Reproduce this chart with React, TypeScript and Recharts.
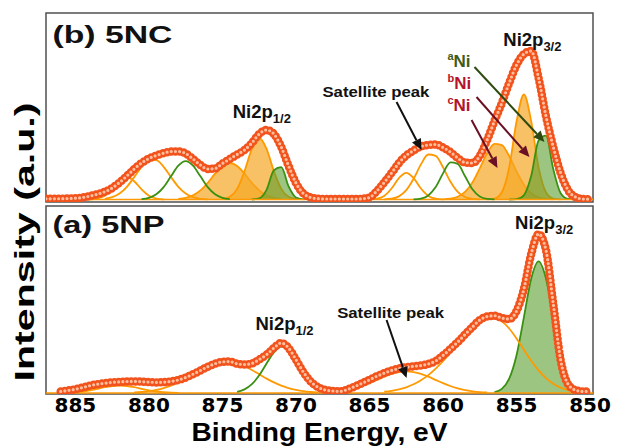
import React from "react";
import {
  Area,
  ComposedChart,
  Line,
  ReferenceArea,
  ReferenceDot,
  ReferenceLine,
  XAxis,
  YAxis,
} from "recharts";

// binding energy grid (eV), 0.5 eV steps
const energy = [
  887, 886.5, 886, 885.5, 885, 884.5, 884, 883.5, 883, 882.5, 882, 881.5, 881, 880.5, 880,
  879.5, 879, 878.5, 878, 877.5, 877, 876.5, 876, 875.5, 875, 874.5, 874, 873.5, 873, 872.5, 872,
  871.5, 871, 870.5, 870, 869.5, 869, 868.5, 868, 867.5, 867, 866.5, 866, 865.5, 865, 864.5, 864,
  863.5, 863, 862.5, 862, 861.5, 861, 860.5, 860, 859.5, 859, 858.5, 858, 857.5, 857, 856.5, 856,
  855.5, 855, 854.5, 854, 853.5, 853, 852.5, 852, 851.5, 851, 850.5, 850,
];
const minorTicks = [885, 882.5, 880, 877.5, 875, 872.5, 870, 867.5, 865, 862.5, 860, 857.5, 855, 852.5, 850];
const majorTicks = [885, 880, 875, 870, 865, 860, 855, 850];
const topTicks = [23.6, 47.2, 70.8, 94.4, 118, 141.6, 165.2];
const bottomTicks = [31.6, 65, 98.4, 131.8, 165.2];

// (b) 5NC measured envelope
const envTop = [
  3.2, 3.2, 3.3, 3.5, 3.8, 4.5, 6.0, 7.8, 10.2, 14, 19.5, 26, 33, 39, 43.5,
  46.5, 48.8, 50.5, 50.5, 48.5, 43, 37, 33, 33.5, 38.5, 43, 47.5, 52, 59, 68, 72,
  68, 55, 36, 19, 8.5, 4.5, 3.3, 3.0, 3.0, 3.0, 3.0, 3.0, 3.2, 4.5, 11, 19.5,
  29, 39, 46.5, 51.5, 55.5, 57, 57.5, 54.5, 50, 44, 39.5, 39, 46, 62, 81, 99,
  119, 137, 148, 151, 124, 86, 55, 29, 12, 5, 3, 2.8,
];
// (b) fitted components: start energy + values
const tC1 = { from: 884, values: [2.5, 3.5, 6.3, 12.7, 20.8, 24.8, 20.8, 12.7, 6.3, 3.5, 2.5] };
const tC2 = { from: 883, values: [3.2, 4.8, 8.5, 15.2, 24.9, 35.2, 42.4, 41.8, 35.2, 24.9, 15.2, 8.5, 4.8, 3.2, 2.6] };
const tC3 = { from: 880.5, values: [2.9, 4.2, 7.7, 14.9, 25.7, 36.3, 40.8, 36.3, 25.7, 14.9, 7.7, 4.2, 2.9] };
const tC4 = { from: 878, values: [3.0, 4.1, 6.7, 11.6, 19.2, 28.3, 36, 39, 36, 28.3, 19.2, 11.6, 6.7, 4.1, 3.0] };
const tC5 = { from: 875, values: [3.0, 5.2, 13.1, 30.7, 53.1, 64, 53.1, 30.7, 13.1, 5.2, 3.0] };
const tC6 = { from: 873, values: [2.5, 3.7, 12.2, 31.7, 34.8, 15.6, 4.5, 2.6] };
const tD1 = { from: 865, values: [2.6, 3.3, 6.1, 13.5, 23.9, 29.2, 23.9, 13.5, 6.1, 3.3, 2.6] };
const tD2 = { from: 864, values: [2.7, 3.3, 5.6, 11.8, 23.2, 37.6, 47.5, 46.2, 34.7, 20.5, 10.1, 5.0, 3.1, 2.6] };
const tD3 = { from: 862, values: [2.6, 3.4, 6.5, 14.9, 28.6, 39.6, 38.2, 25.7, 12.7, 5.5, 3.1, 2.6] };
const tD4 = { from: 860, values: [2.7, 3.3, 5.3, 10.1, 19.6, 33.7, 48.7, 58.1, 56.9, 45.9, 30.6, 17.3, 8.8, 4.7, 3.1, 2.6] };
const tD5 = { from: 857, values: [2.6, 3.4, 9.8, 34.6, 80.6, 107.5, 80.6, 34.6, 9.8, 3.4, 2.6] };
const tD6 = { from: 855.5, values: [2.5, 2.8, 6.7, 26.2, 61.4, 66.4, 32.9, 8.8, 3.1, 2.5] };

// (a) 5NP measured envelope
const envBottom = {
  from: 886,
  values: [
    2.6, 3.5, 4.8, 6.5, 8.4, 9.8, 10.8, 11.6, 12.1, 12.5, 12.6, 12.3, 11.9, 11.6, 11.8,
    12.6, 14.0, 16.5, 19.8, 23.5, 27.3, 30.3, 32.2, 32.4, 30.2, 29.5, 30.5, 34.5, 39.3, 46, 51,
    46, 34.3, 22, 12.5, 6.8, 4.0, 3.0, 2.6, 4.5, 7.5, 10.8, 14.2, 17.8, 20.8, 23.5, 25.5,
    26.8, 27.7, 28.5, 30, 33, 38.5, 45, 52, 59.5, 67, 74, 77.5, 78.3, 76, 75, 83,
    105, 140, 160, 144, 90, 34, 10, 4, 2.6, 2.6,
  ],
};
const bC1 = { from: 886, values: [1.1, 1.3, 1.8, 2.5, 3.7, 5.2, 6.8, 8.0, 8.5, 8.0, 6.8, 5.2, 3.7, 2.5, 1.8, 1.3, 1.1] };
const bC2 = {
  from: 881,
  values: [1.6, 2.0, 2.8, 4.1, 5.9, 8.4, 11.6, 15.4, 19.7, 24.0, 27.8, 30.7, 32.3, 32.3, 30.7, 27.8, 24.0, 19.7, 15.4, 11.6, 8.4, 5.9, 4.1, 2.8, 2.0, 1.6],
};
const bC3 = { from: 874, values: [2.2, 4.6, 9.8, 18.7, 30.5, 41.7, 47.4, 44.9, 35.3, 23.2, 12.9, 6.3, 2.9, 1.6] };
const bD1 = {
  from: 868,
  values: [1.5, 1.9, 2.7, 3.9, 5.7, 8.0, 10.9, 14.1, 17.3, 20.1, 21.9, 22.6, 21.9, 20.1, 17.3, 14.1, 10.9, 8.0, 5.7, 3.9, 2.7, 1.9, 1.5],
};
const bD2 = {
  from: 864,
  values: [2.3, 3.2, 4.6, 6.7, 9.7, 13.7, 18.9, 25.4, 32.9, 41.3, 50.0, 58.4, 65.9, 71.7, 75.1, 75.9, 72.7, 65.5, 55.5, 44.2, 33.3, 23.6, 15.9, 10.2, 6.3, 3.9, 2.5, 1.7, 1.3],
};
const bD3 = { from: 856.5, values: [1.9, 5.1, 15.3, 38.8, 76.7, 115.6, 132.6, 115.6, 76.7, 38.8, 15.3, 5.1, 1.9] };

type Win = { from: number; values: number[] };

function buildRows(series: Record<string, Win>) {
  return energy.map((e, k) => {
    const row: Record<string, number | null> = { e };
    for (const [key, w] of Object.entries(series)) {
      const j = k - energy.indexOf(w.from);
      row[key] = j >= 0 && j < w.values.length ? w.values[j] : null;
    }
    return row;
  });
}

const topRows = buildRows({
  env: { from: 887, values: envTop },
  env2: { from: 887, values: envTop },
  c1: tC1, c2: tC2, c3: tC3, c4: tC4, c5: tC5, c6: tC6,
  d1: tD1, d2: tD2, d3: tD3, d4: tD4, d5: tD5, d6: tD6,
});
const bottomRows = buildRows({
  env: envBottom,
  env2: envBottom,
  c1: bC1, c2: bC2, c3: bC3, d1: bD1, d2: bD2, d3: bD3,
});

const ORANGE = "#ff9900";
const ORANGE_FILL = "#f5a623";
const GREEN = "#3a9012";
const GREEN_FILL = "#5a9e2f";
const FRAME = "#505050";
const SANS = "'Liberation Sans', Arial, sans-serif";
const DOMAIN: [number, number] = [849.8, 887];

const arrow = (color: string) => (p: any) => {
  const { x1, y1, x2, y2 } = p;
  const a = Math.atan2(y2 - y1, x2 - x1);
  const L = 11;
  const W = 5;
  const bx = x2 - L * Math.cos(a);
  const by = y2 - L * Math.sin(a);
  const px = -Math.sin(a) * W;
  const py = Math.cos(a) * W;
  return (
    <g>
      <line x1={x1} y1={y1} x2={bx} y2={by} stroke={color} strokeWidth={2} />
      <polygon points={`${x2},${y2} ${bx + px},${by + py} ${bx - px},${by - py}`} fill={color} />
    </g>
  );
};

const plain = (text: string, size: number, length?: number) => (p: any) => (
  <text
    x={p.viewBox.x}
    y={p.viewBox.y}
    fontFamily={SANS}
    fontWeight="bold"
    fontSize={size}
    fill="#111"
    textLength={length}
    lengthAdjust="spacingAndGlyphs"
  >
    {text}
  </text>
);

const orbital = (sub: string) => (p: any) => (
  <text x={p.viewBox.x} y={p.viewBox.y} fontFamily={SANS} fontWeight="bold" fontSize={18.5} fill="#111">
    Ni2p
    <tspan fontSize={13} dy={5}>
      {sub}
    </tspan>
  </text>
);

const species = (sup: string, color: string) => (p: any) => (
  <text x={p.viewBox.x} y={p.viewBox.y} fontFamily={SANS} fontWeight="bold" fontSize={17} fill={color}>
    <tspan fontSize={11} dy={-7}>
      {sup}
    </tspan>
    <tspan dy={7}>Ni</tspan>
  </text>
);

const envelope = [
  <Line key="e1" type="monotone" dataKey="env" stroke="#f2521c" strokeWidth={8.5} strokeDasharray="0 4.2" strokeLinecap="round" dot={false} isAnimationActive={false} />,
  <Line key="e2" type="monotone" dataKey="env2" stroke="#ffbf9e" strokeWidth={3.2} strokeDasharray="0 4.2" strokeLinecap="round" dot={false} isAnimationActive={false} />,
];

const fitLine = (key: string, color: string) => (
  <Line key={key} type="monotone" dataKey={key} stroke={color} strokeWidth={1.8} dot={false} isAnimationActive={false} />
);

const fitArea = (key: string, color: string, fill: string, base: number) => (
  <Area
    key={key}
    type="monotone"
    dataKey={key}
    baseValue={base}
    stroke={color}
    strokeWidth={1.8}
    fill={fill}
    fillOpacity={color === GREEN ? 0.6 : 0.7}
    isAnimationActive={false}
  />
);

function TopPanel() {
  return (
    <ComposedChart width={619} height={210} data={topRows} margin={{ top: 13, right: 26, bottom: 8, left: 46 }}>
      <XAxis dataKey="e" type="number" domain={DOMAIN} reversed allowDataOverflow ticks={minorTicks} interval={0} mirror tick={false} tickSize={4} axisLine={false} tickLine={{ stroke: FRAME, strokeWidth: 1.2 }} />
      <YAxis type="number" domain={[0, 189]} allowDataOverflow ticks={topTicks} interval={0} mirror tick={false} tickSize={4} axisLine={false} tickLine={{ stroke: FRAME, strokeWidth: 1.2 }} />
      <ReferenceLine y={2.5} stroke={ORANGE} strokeWidth={1.5} />
      {fitArea("c4", ORANGE, ORANGE_FILL, 2.5)}
      {fitArea("c5", ORANGE, ORANGE_FILL, 2.5)}
      {fitArea("d4", ORANGE, ORANGE_FILL, 2.5)}
      {fitArea("d5", ORANGE, ORANGE_FILL, 2.5)}
      {fitArea("c6", GREEN, GREEN_FILL, 2.5)}
      {fitArea("d6", GREEN, GREEN_FILL, 2.5)}
      {fitLine("c1", ORANGE)}
      {fitLine("c2", ORANGE)}
      {fitLine("d1", ORANGE)}
      {fitLine("d2", ORANGE)}
      {fitLine("c3", GREEN)}
      {fitLine("d3", GREEN)}
      {envelope}
      <ReferenceArea x1={887} x2={849.8} y1={0} y2={189} fill="none" stroke={FRAME} strokeWidth={1.5} ifOverflow="visible" />
      <ReferenceDot x={886.56} y={159} r={0} fill="none" stroke="none" label={{ content: plain("(b) 5NC", 23, 120) }} />
      <ReferenceDot x={874.3} y={84} r={0} fill="none" stroke="none" label={{ content: orbital("1/2") }} />
      <ReferenceDot x={855.9} y={156} r={0} fill="none" stroke="none" label={{ content: orbital("3/2") }} />
      <ReferenceDot x={868.2} y={105} r={0} fill="none" stroke="none" label={{ content: plain("Satellite peak", 14.5, 107) }} />
      <ReferenceDot x={859.7} y={135} r={0} fill="none" stroke="none" label={{ content: species("a", "#3f5c16") }} />
      <ReferenceDot x={859.7} y={113} r={0} fill="none" stroke="none" label={{ content: species("b", "#b3142c") }} />
      <ReferenceDot x={859.7} y={91} r={0} fill="none" stroke="none" label={{ content: species("c", "#b3142c") }} />
      <ReferenceLine segment={[{ x: 863.16, y: 100 }, { x: 861.46, y: 52 }]} shape={arrow("#111")} />
      <ReferenceLine segment={[{ x: 857.86, y: 135 }, { x: 853.1, y: 60 }]} shape={arrow("#2f4a10")} />
      <ReferenceLine segment={[{ x: 857.72, y: 105 }, { x: 854.12, y: 45 }]} shape={arrow("#6b0f25")} />
      <ReferenceLine segment={[{ x: 858.06, y: 82 }, { x: 856.3, y: 34 }]} shape={arrow("#6b0f25")} />
    </ComposedChart>
  );
}

function BottomPanel() {
  const xTitle = (p: any) => (
    <text x={p.viewBox.x + p.viewBox.width / 2} y={441} textAnchor="middle" fontFamily={SANS} fontWeight="bold" fontSize={26} textLength={256} lengthAdjust="spacingAndGlyphs" fill="#000">
      Binding Energy, eV
    </text>
  );
  const yTitle = () => (
    <text x={34} y={242} transform="rotate(-90 34 242)" textAnchor="middle" fontFamily={SANS} fontWeight="bold" fontSize={28} textLength={279} lengthAdjust="spacingAndGlyphs" fill="#000">
      Intensity (a.u.)
    </text>
  );
  return (
    <ComposedChart width={619} height={448} data={bottomRows} margin={{ top: 206, right: 26, bottom: 24, left: 46 }}>
      <XAxis
        dataKey="e"
        type="number"
        domain={DOMAIN}
        reversed
        allowDataOverflow
        ticks={majorTicks}
        interval={0}
        height={30}
        tickSize={4}
        tickMargin={0}
        tickLine={false}
        axisLine={false}
        tick={{ fontFamily: "'DejaVu Sans', sans-serif", fontWeight: "bold", fontSize: 20, fill: "#000" }}
        label={{ content: xTitle }}
      />
      <XAxis xAxisId="minor" dataKey="e" type="number" domain={DOMAIN} reversed allowDataOverflow ticks={minorTicks} interval={0} mirror tick={false} tickSize={4} axisLine={false} tickLine={{ stroke: FRAME, strokeWidth: 1.2 }} />
      <YAxis type="number" domain={[0, 188]} allowDataOverflow ticks={bottomTicks} interval={0} mirror tick={false} tickSize={4} axisLine={false} tickLine={{ stroke: FRAME, strokeWidth: 1.2 }} label={{ content: yTitle }} />
      <ReferenceLine y={1} stroke={ORANGE} strokeWidth={1.5} />
      {fitArea("d3", GREEN, GREEN_FILL, 1)}
      {fitLine("c1", ORANGE)}
      {fitLine("c2", ORANGE)}
      {fitLine("d1", ORANGE)}
      {fitLine("d2", ORANGE)}
      {fitLine("c3", GREEN)}
      {envelope}
      <ReferenceArea x1={887} x2={849.8} y1={0} y2={188} fill="none" stroke={FRAME} strokeWidth={1.5} ifOverflow="visible" />
      <ReferenceDot x={886.56} y={161} r={0} fill="none" stroke="none" label={{ content: plain("(a) 5NP", 23, 112) }} />
      <ReferenceDot x={872.76} y={64} r={0} fill="none" stroke="none" label={{ content: orbital("1/2") }} />
      <ReferenceDot x={855.1} y={165} r={0} fill="none" stroke="none" label={{ content: orbital("3/2") }} />
      <ReferenceDot x={867.2} y={76} r={0} fill="none" stroke="none" label={{ content: plain("Satellite peak", 14.5, 107) }} />
      <ReferenceLine segment={[{ x: 863.84, y: 74 }, { x: 862.48, y: 16 }]} shape={arrow("#111")} />
    </ComposedChart>
  );
}

export default function App() {
  return (
    <div style={{ position: "absolute", left: 0, top: 0, width: 619, height: 448, background: "#fff" }}>
      <div style={{ position: "absolute", left: 0, top: 0 }}>
        <BottomPanel />
      </div>
      <div style={{ position: "absolute", left: 0, top: 0 }}>
        <TopPanel />
      </div>
    </div>
  );
}
